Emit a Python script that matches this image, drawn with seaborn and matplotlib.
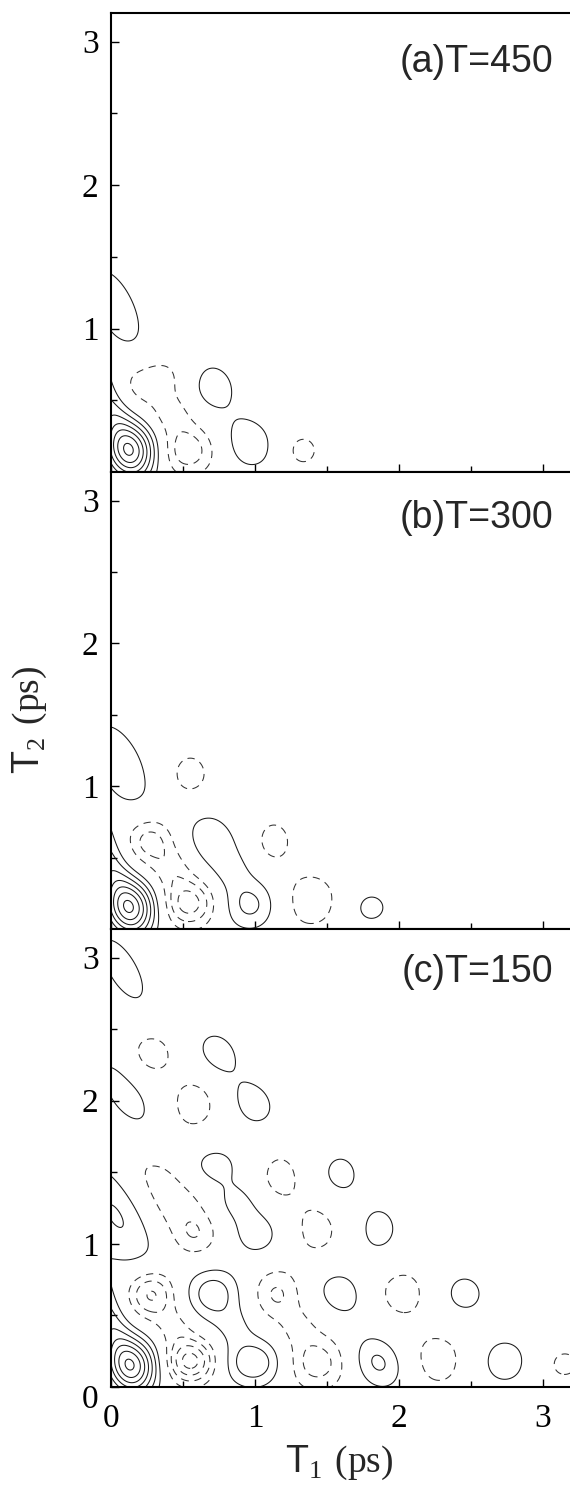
import numpy as np
import matplotlib
matplotlib.use("Agg")
import matplotlib.pyplot as plt
from matplotlib.transforms import ScaledTranslation
import seaborn as sns

# Feature tables for each temperature: centre (T1, T2) in ps, signed amplitude,
# width along the tilt direction, width across it (ps), tilt angle (deg).
A_T1 = [0.14, 0.00, 0.04, 0.70, 0.96, 0.53, 0.28, 0.42, 1.33]
A_T2 = [0.15, 0.42, 1.15, 0.60, 0.20, 0.15, 0.63, 0.40, 0.15]
A_AMP = [5.7, 2.5, 1.7, 1.6, 1.7, -2.75, -1.85, -1.4, -1.4]
A_WL = [0.135, 0.34, 0.26, 0.15, 0.15, 0.135, 0.18, 0.11, 0.10]
A_WC = [0.125, 0.09, 0.11, 0.13, 0.13, 0.125, 0.12, 0.10, 0.10]
A_TILT = [100, 110, 115, -60, -60, 0, 15, 0, 0]

B_T1 = [0.14, 0.00, 0.07, 0.55, 0.27, 0.54, 0.42, 0.70, 0.97, 0.84, 1.13, 1.38, 1.80]
B_T2 = [0.15, 0.42, 1.15, 1.08, 0.62, 0.18, 0.42, 0.61, 0.17, 0.40, 0.62, 0.20, 0.15]
B_AMP = [5.7, 2.5, 1.7, -1.5, -2.6, -3.6, -1.4, 1.8, 2.35, 0.8, -1.5, -1.6, 1.4]
B_WL = [0.135, 0.34, 0.28, 0.13, 0.12, 0.13, 0.11, 0.17, 0.14, 0.10, 0.12, 0.17, 0.11]
B_WC = [0.125, 0.09, 0.13, 0.11, 0.12, 0.12, 0.11, 0.13, 0.13, 0.10, 0.10, 0.17, 0.10]
B_TILT = [100, 110, 115, 90, 0, 0, 0, -60, 0, 0, 90, 0, 0]

C_T1 = [0.15, 0.00, 0.08, 0.28, 0.74, 0.99, 0.58, 0.12, 0.06, 0.38, 0.58, 0.70,
        1.00, 0.86, 1.17, 1.59, 1.43, 1.86, 0.28, 0.55, 0.44, 0.71, 0.99, 0.86,
        1.15, 1.43, 1.30, 1.59, 1.86, 2.02, 2.45, 2.28, 2.72, 3.14]
C_T2 = [0.15, 0.42, 2.92, 2.33, 2.33, 1.98, 1.98, 2.00, 1.22, 1.33, 1.07, 1.54,
        1.07, 1.29, 1.47, 1.48, 1.10, 1.10, 0.65, 0.18, 0.42, 0.66, 0.17, 0.42,
        0.65, 0.17, 0.42, 0.66, 0.17, 0.66, 0.65, 0.19, 0.18, 0.16]
C_AMP = [5.7, 2.5, 1.7, -1.5, 1.5, 1.5, -1.5, 1.7, 2.45, -2.0, -0.85, 1.6,
         1.7, 1.3, -1.4, 1.4, -1.4, 1.4, -3.5, -4.5, -1.3, 2.9, 2.9, 1.0,
         -2.1, -2.6, -1.0, 1.6, 2.3, -1.5, 1.4, -1.5, 1.5, -1.3]
C_WL = [0.135, 0.34, 0.22, 0.128, 0.145, 0.145, 0.155, 0.30, 0.34, 0.40, 0.09, 0.15,
        0.14, 0.12, 0.15, 0.14, 0.18, 0.15, 0.12, 0.12, 0.10, 0.14, 0.145, 0.10,
        0.13, 0.15, 0.10, 0.15, 0.15, 0.145, 0.13, 0.18, 0.167, 0.125]
C_WC = [0.125, 0.09, 0.09, 0.128, 0.115, 0.115, 0.133, 0.12, 0.17, 0.19, 0.09, 0.12,
        0.13, 0.10, 0.12, 0.12, 0.14, 0.12, 0.12, 0.11, 0.10, 0.14, 0.12, 0.10,
        0.12, 0.14, 0.10, 0.12, 0.12, 0.145, 0.13, 0.17, 0.15, 0.11]
C_TILT = [100, 110, 120, 0, -55, -55, 90, 120, 120, -54, 0, 0,
          0, 0, 90, 90, 90, 90, 0, 0, 0, 0, 0, 0,
          90, 0, 0, -45, -45, 0, 0, 0, 0, 0]

PANEL_LABELS = ["(a)T=450", "(b)T=300", "(c)T=150"]
POS_LEVELS = [1, 2, 3, 4, 5, 6, 7, 8]
NEG_LEVELS = [-8, -7, -6, -5, -4, -3, -2, -1]
TICKS = [0, 1, 2, 3]


def build_field(T1, T2, t1, t2, amp, wl, wc, tilt):
    Z = np.zeros_like(T1)
    for x0, y0, a, l, c, th in zip(t1, t2, amp, wl, wc, tilt):
        th = np.deg2rad(th)
        dx, dy = T1 - x0, T2 - y0
        u = dx * np.cos(th) + dy * np.sin(th)
        v = -dx * np.sin(th) + dy * np.cos(th)
        Z += a * np.exp(-0.5 * ((u / l) ** 2 + (v / c) ** 2))
    return Z


sns.set_style("ticks")
plt.rcParams["font.family"] = ["Liberation Serif", "DejaVu Serif"]
plt.rcParams["mathtext.fontset"] = "custom"
plt.rcParams["mathtext.rm"] = "Liberation Serif"
plt.rcParams["mathtext.sf"] = "Liberation Sans"
plt.rcParams["lines.dashed_pattern"] = [7.0, 5.5]

W, H = 570, 1487
fig = plt.figure(figsize=(W / 100, H / 100), dpi=100)

grid = np.linspace(0, 3.25, 450)
T1, T2 = np.meshgrid(grid, grid)

tables = [
    (A_T1, A_T2, A_AMP, A_WL, A_WC, A_TILT),
    (B_T1, B_T2, B_AMP, B_WL, B_WC, B_TILT),
    (C_T1, C_T2, C_AMP, C_WL, C_WC, C_TILT),
]
panel_px = [(13, 472), (472, 929), (929, 1387)]
label_y = [2.86, 2.88, 2.90]

left_px = 111
x_unit = 144.0
for i, (tab, (top, bot)) in enumerate(zip(tables, panel_px)):
    ax = fig.add_axes([left_px / W, 1 - bot / H, 3.2 * x_unit / W, (bot - top) / H])
    Z = build_field(T1, T2, *tab)
    ax.contour(T1, T2, Z, levels=POS_LEVELS, colors="#1a1a1a",
               linewidths=0.75, linestyles="solid")
    ax.contour(T1, T2, Z, levels=NEG_LEVELS, colors="#333333",
               linewidths=0.75, linestyles="dashed")
    ax.set_xlim(0, 3.2)
    ax.set_ylim(0, 3.2)
    ax.set_xticks(TICKS)
    ax.set_yticks(TICKS)
    ax.set_xticks([0.5, 1.5, 2.5], minor=True)
    ax.set_yticks([0.5, 1.5, 2.5], minor=True)
    ax.tick_params(which="both", direction="in", top=False, right=False,
                   width=1.0, colors="black")
    ax.tick_params(which="major", length=5.5, labelsize=24)
    ax.tick_params(which="minor", length=4)
    ax.tick_params(axis="y", pad=9)
    ax.tick_params(axis="x", pad=12)
    ax.spines["right"].set_visible(False)
    for s in ("left", "bottom", "top"):
        ax.spines[s].set_linewidth(1.5)
        ax.spines[s].set_color("black")
    if i < 2:
        ax.set_yticklabels(["", "1", "2", "3"])
        ax.set_xticklabels([])
    else:
        ax.set_yticklabels(["0", "1", "2", "3"])
        ax.set_xticklabels(["0", "1", "2", "3"])
        lab0 = ax.get_yticklabels()[0]
        lab0.set_transform(lab0.get_transform() +
                           ScaledTranslation(0, -0.09, fig.dpi_scale_trans))
    ax.text(3.07, label_y[i], PANEL_LABELS[i], ha="right", va="center",
            fontsize=27, family="Liberation Sans")

fig.text(30 / W, 1 - 720 / H, r"$\mathsf{T}_{2}\ \mathrm{(ps)}$", rotation=90,
         ha="center", va="center", fontsize=27)
fig.text(339 / W, 1 - 1463 / H, r"$\mathsf{T}_{1}\ \mathrm{(ps)}$",
         ha="center", va="center", fontsize=27)

fig.savefig("out.png", dpi=100)
